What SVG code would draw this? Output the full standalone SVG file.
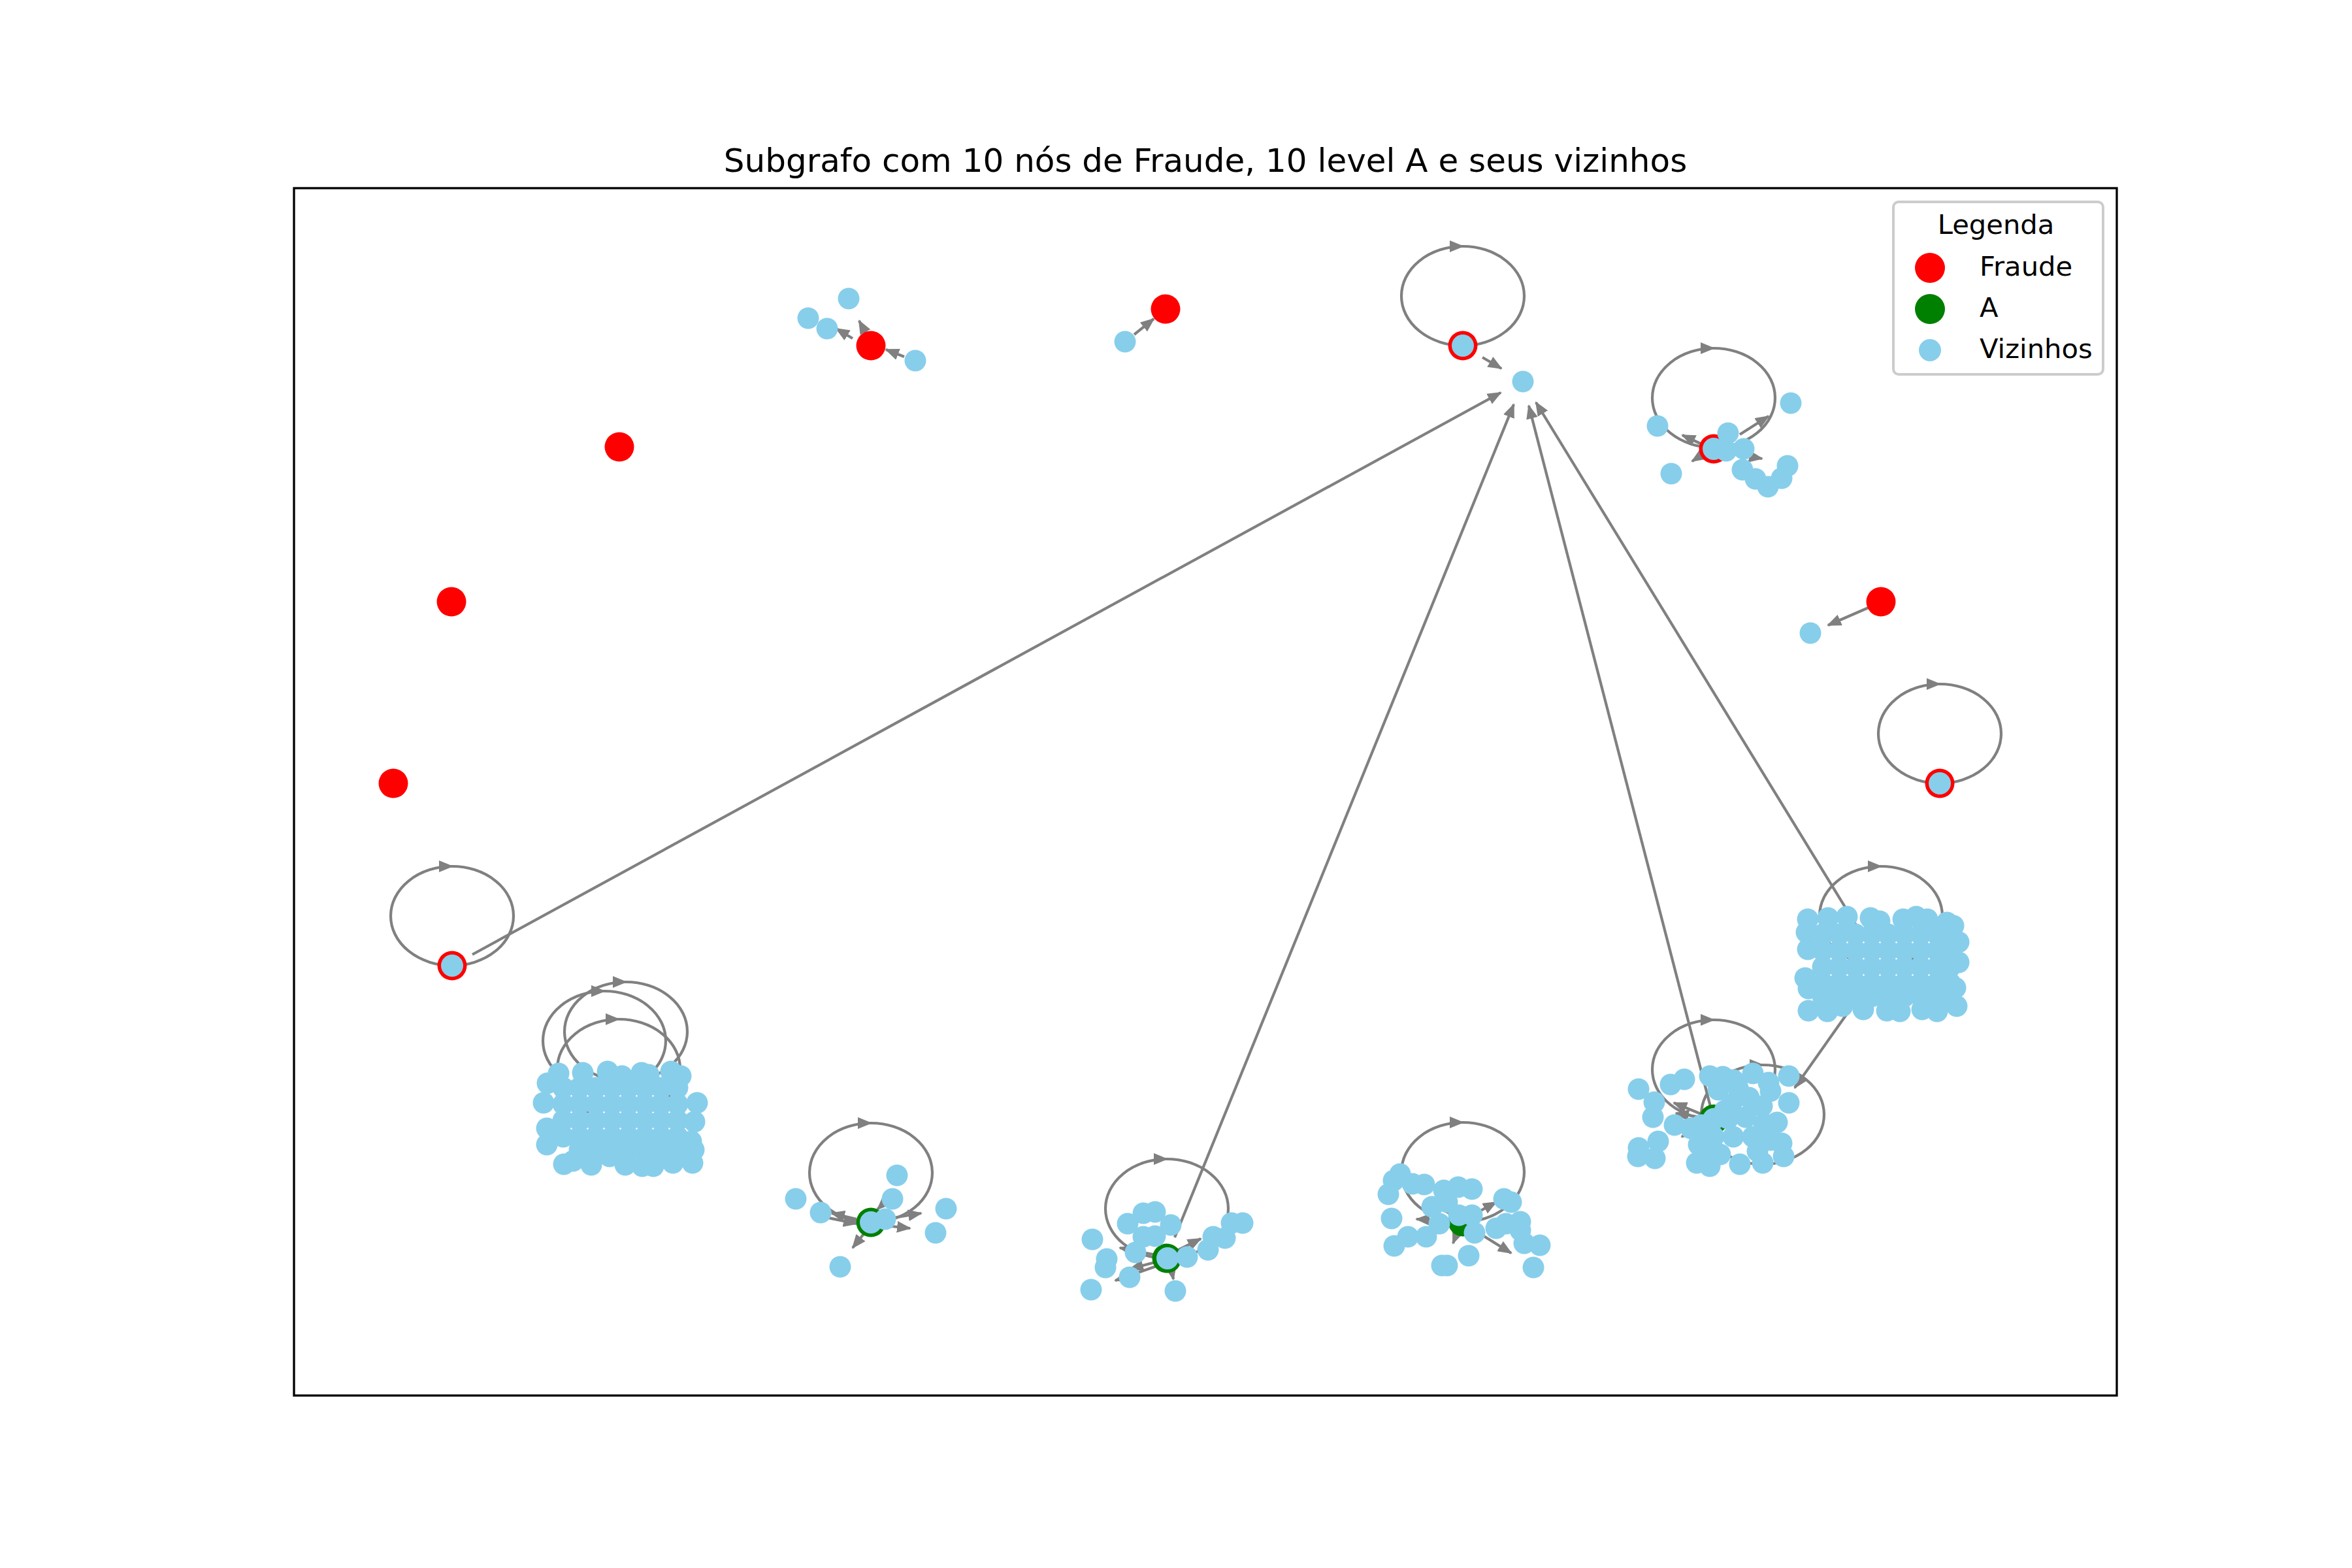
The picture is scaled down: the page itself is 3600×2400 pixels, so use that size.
<svg xmlns="http://www.w3.org/2000/svg" xmlns:xlink="http://www.w3.org/1999/xlink" width="3600" height="2400" viewBox="0 0 3600 2400">
<style>
.e{stroke:#808080;stroke-width:4.2;fill:none;stroke-linecap:butt}
.r{fill:#ff0000}
.g{fill:#008000}
.b{fill:#87ceeb}
.t{font-family:"DejaVu Sans","Liberation Sans",sans-serif;fill:#000}
</style>
<defs>
<marker id="ah" markerUnits="userSpaceOnUse" viewBox="0 0 22 18" refX="20" refY="9" markerWidth="22" markerHeight="18" orient="auto"><path d="M0,0 L22,9 L0,18 z" fill="#808080"/></marker>
<g id="loop"><path class="e" d="M0,0 A94,76 0 0 1 0,-152" marker-end="url(#ah)"/><path class="e" d="M0,-152 A94,76 0 0 1 0,0"/></g>
</defs>
<rect width="3600" height="2400" fill="#fff"/>
<text class="t" x="1845" y="263" font-size="50" text-anchor="middle">Subgrafo com 10 nós de Fraude, 10 level A e seus vizinhos</text>
<g id="connectors">
<use xlink:href="#loop" x="2239" y="529"/>
<use xlink:href="#loop" x="2623" y="685"/>
<use xlink:href="#loop" x="2969" y="1199"/>
<use xlink:href="#loop" x="692" y="1478"/>
<use xlink:href="#loop" x="2879" y="1478"/>
<use xlink:href="#loop" x="925" y="1669"/>
<use xlink:href="#loop" x="958" y="1655"/>
<use xlink:href="#loop" x="947" y="1712"/>
<use xlink:href="#loop" x="2623" y="1713"/>
<use xlink:href="#loop" x="2698" y="1782"/>
<use xlink:href="#loop" x="1333" y="1871"/>
<use xlink:href="#loop" x="1786" y="1926"/>
<use xlink:href="#loop" x="2239" y="1870"/>
<g marker-end="url(#ah)">
<line class="e" x1="1305" y1="518" x2="1280" y2="503"/>
<line class="e" x1="1328" y1="515" x2="1315" y2="491"/>
<line class="e" x1="1384" y1="546" x2="1356" y2="535"/>
<line class="e" x1="1736" y1="512" x2="1766" y2="488"/>
<line class="e" x1="2269" y1="547" x2="2298" y2="564"/>
<line class="e" x1="2663" y1="665" x2="2707" y2="637"/>
<line class="e" x1="2605" y1="680" x2="2575" y2="666"/>
<line class="e" x1="2610" y1="693" x2="2590" y2="706"/>
<line class="e" x1="2645" y1="693" x2="2697" y2="702"/>
<line class="e" x1="2860" y1="930" x2="2798" y2="957"/>
<line class="e" x1="723" y1="1461" x2="2297" y2="601"/>
<line class="e" x1="1798" y1="1894" x2="2317" y2="619"/>
<line class="e" x1="2623" y1="1713" x2="2340" y2="621"/>
<line class="e" x1="2879" y1="1478" x2="2351" y2="616"/>
<line class="e" x1="2879" y1="1478" x2="2747" y2="1665"/>
<line class="e" x1="1311" y1="1866" x2="1273" y2="1857"/>
<line class="e" x1="1258" y1="1862" x2="1311" y2="1873"/>
<line class="e" x1="1325" y1="1885" x2="1305" y2="1910"/>
<line class="e" x1="1362" y1="1833" x2="1343" y2="1851"/>
<line class="e" x1="1355" y1="1866" x2="1410" y2="1857"/>
<line class="e" x1="1355" y1="1876" x2="1393" y2="1880"/>
<line class="e" x1="1765" y1="1920" x2="1714" y2="1910"/>
<line class="e" x1="1768" y1="1932" x2="1730" y2="1942"/>
<line class="e" x1="1770" y1="1938" x2="1707" y2="1960"/>
<line class="e" x1="1790" y1="1930" x2="1796" y2="1958"/>
<line class="e" x1="1800" y1="1915" x2="1838" y2="1896"/>
<line class="e" x1="2215" y1="1868" x2="2168" y2="1866"/>
<line class="e" x1="2260" y1="1885" x2="2313" y2="1918"/>
<line class="e" x1="2235" y1="1875" x2="2224" y2="1903"/>
<line class="e" x1="2250" y1="1862" x2="2290" y2="1840"/>
<line class="e" x1="2225" y1="1860" x2="2180" y2="1838"/>
<line class="e" x1="2623" y1="1713" x2="2562" y2="1688"/>
<line class="e" x1="2623" y1="1713" x2="2565" y2="1704"/>
<line class="e" x1="2623" y1="1713" x2="2574" y2="1740"/>
</g>
</g>
<g id="fraude-nodes">
<g id="f1"><circle class="r" cx="1333" cy="529" r="22.5"/></g>
<g id="f2"><circle class="r" cx="1784" cy="473" r="22.5"/></g>
<g id="f3"><circle class="r" cx="948" cy="684" r="22.5"/></g>
<g id="f4"><circle class="r" cx="691" cy="921" r="22.5"/></g>
<g id="f5"><circle class="r" cx="602" cy="1199" r="22.5"/></g>
<g id="f6"><circle class="r" cx="2879" cy="921" r="22.5"/></g>
<g id="f7"><circle class="r" cx="2239" cy="529" r="22.5"/></g>
<g id="f8"><circle class="r" cx="2623" cy="687" r="22.5"/></g>
<g id="f9"><circle class="r" cx="2969" cy="1199" r="22.5"/></g>
<g id="f10"><circle class="r" cx="692" cy="1478" r="22.5"/></g>
</g>
<g id="a-nodes">
<g id="a1"><circle class="g" cx="1333" cy="1871" r="22.5"/></g>
<g id="a2"><circle class="g" cx="1786" cy="1926" r="22.5"/></g>
<g id="a3"><circle class="g" cx="2239" cy="1870" r="22.5"/></g>
<g id="a4"><circle class="g" cx="2623" cy="1713" r="22.5"/></g>
</g>
<g id="vizinhos" class="b">
<g id="v-top">
<circle cx="1237" cy="487" r="16.5"/><circle cx="1266" cy="503" r="16.5"/><circle cx="1299" cy="457" r="16.5"/><circle cx="1401" cy="552" r="16.5"/>
<circle cx="1722" cy="523" r="16.5"/>
<circle cx="2239" cy="529" r="17"/><circle cx="2331" cy="584" r="16.5"/>
<circle cx="2771" cy="969" r="16.5"/>
<circle cx="2969" cy="1199" r="17"/>
<circle cx="692" cy="1478" r="17"/>
</g>
<g id="v-topright">
<circle cx="2537" cy="652" r="16.5"/><circle cx="2558" cy="725" r="16.5"/><circle cx="2741" cy="617" r="16.5"/>
<circle cx="2623" cy="687" r="17"/><circle cx="2645" cy="663" r="16.5"/><circle cx="2642" cy="690" r="16.5"/><circle cx="2669" cy="687" r="16.5"/>
<circle cx="2667" cy="719" r="16.5"/><circle cx="2687" cy="733" r="16.5"/><circle cx="2706" cy="745" r="16.5"/><circle cx="2727" cy="732" r="16.5"/><circle cx="2736" cy="713" r="16.5"/>
</g>
<g id="v-a1">
<circle cx="1218" cy="1835" r="16.5"/><circle cx="1256" cy="1856" r="16.5"/><circle cx="1286" cy="1939" r="16.5"/><circle cx="1373" cy="1799" r="16.5"/>
<circle cx="1366" cy="1835" r="16.5"/><circle cx="1333" cy="1871" r="17"/><circle cx="1355" cy="1866" r="16.5"/><circle cx="1448" cy="1850" r="16.5"/><circle cx="1432" cy="1887" r="16.5"/>
</g>
<g id="v-a2">
<circle cx="1672" cy="1897" r="16.5"/><circle cx="1694" cy="1927" r="16.5"/><circle cx="1692" cy="1940" r="16.5"/><circle cx="1670" cy="1974" r="16.5"/>
<circle cx="1729" cy="1955" r="16.5"/><circle cx="1738" cy="1917" r="16.5"/><circle cx="1726" cy="1873" r="16.5"/><circle cx="1750" cy="1857" r="16.5"/>
<circle cx="1768" cy="1855" r="16.5"/><circle cx="1792" cy="1875" r="16.5"/><circle cx="1768" cy="1892" r="16.5"/><circle cx="1750" cy="1893" r="16.5"/>
<circle cx="1787" cy="1926" r="17"/><circle cx="1817" cy="1924" r="16.5"/><circle cx="1849" cy="1913" r="16.5"/><circle cx="1857" cy="1893" r="16.5"/>
<circle cx="1875" cy="1895" r="16.5"/><circle cx="1885" cy="1872" r="16.5"/><circle cx="1902" cy="1872" r="16.5"/><circle cx="1799" cy="1976" r="16.5"/>
</g>
<g id="v-a3">
<circle cx="2143" cy="1797" r="16.5"/><circle cx="2133" cy="1807" r="16.5"/><circle cx="2125" cy="1828" r="16.5"/><circle cx="2130" cy="1865" r="16.5"/>
<circle cx="2155" cy="1893" r="16.5"/><circle cx="2134" cy="1907" r="16.5"/><circle cx="2162" cy="1812" r="16.5"/><circle cx="2180" cy="1813" r="16.5"/>
<circle cx="2210" cy="1822" r="16.5"/><circle cx="2232" cy="1817" r="16.5"/><circle cx="2253" cy="1820" r="16.5"/><circle cx="2192" cy="1847" r="16.5"/>
<circle cx="2215" cy="1840" r="16.5"/><circle cx="2203" cy="1873" r="16.5"/><circle cx="2183" cy="1893" r="16.5"/><circle cx="2233" cy="1860" r="16.5"/>
<circle cx="2253" cy="1860" r="16.5"/><circle cx="2257" cy="1887" r="16.5"/><circle cx="2248" cy="1922" r="16.5"/><circle cx="2207" cy="1937" r="16.5"/>
<circle cx="2215" cy="1937" r="16.5"/><circle cx="2302" cy="1835" r="16.5"/><circle cx="2313" cy="1840" r="16.5"/><circle cx="2290" cy="1880" r="16.5"/>
<circle cx="2305" cy="1873" r="16.5"/><circle cx="2327" cy="1870" r="16.5"/><circle cx="2327" cy="1883" r="16.5"/><circle cx="2333" cy="1903" r="16.5"/>
<circle cx="2357" cy="1906" r="16.5"/><circle cx="2347" cy="1940" r="16.5"/>
</g>
<g id="v-left">
<circle cx="855" cy="1643" r="16.5"/><circle cx="892" cy="1642" r="16.5"/><circle cx="930" cy="1640" r="16.5"/><circle cx="952" cy="1647" r="16.5"/>
<circle cx="982" cy="1642" r="16.5"/><circle cx="993" cy="1645" r="16.5"/><circle cx="1027" cy="1640" r="16.5"/><circle cx="1042" cy="1647" r="16.5"/>
<circle cx="838" cy="1658" r="16.5"/><circle cx="832" cy="1688" r="16.5"/><circle cx="837" cy="1727" r="16.5"/><circle cx="837" cy="1752" r="16.5"/>
<circle cx="863" cy="1782" r="16.5"/><circle cx="877" cy="1777" r="16.5"/><circle cx="905" cy="1783" r="16.5"/><circle cx="933" cy="1770" r="16.5"/>
<circle cx="957" cy="1783" r="16.5"/><circle cx="983" cy="1785" r="16.5"/><circle cx="1000" cy="1785" r="16.5"/><circle cx="1030" cy="1780" r="16.5"/>
<circle cx="1060" cy="1780" r="16.5"/><circle cx="1067" cy="1688" r="16.5"/><circle cx="1063" cy="1717" r="16.5"/><circle cx="1058" cy="1747" r="16.5"/><circle cx="1062" cy="1760" r="16.5"/>
<circle cx="862" cy="1665" r="16.5"/><circle cx="887" cy="1665" r="16.5"/><circle cx="912" cy="1665" r="16.5"/><circle cx="937" cy="1665" r="16.5"/><circle cx="962" cy="1665" r="16.5"/><circle cx="987" cy="1665" r="16.5"/><circle cx="1012" cy="1665" r="16.5"/><circle cx="1037" cy="1665" r="16.5"/>
<circle cx="862" cy="1690" r="16.5"/><circle cx="887" cy="1690" r="16.5"/><circle cx="912" cy="1690" r="16.5"/><circle cx="937" cy="1690" r="16.5"/><circle cx="962" cy="1690" r="16.5"/><circle cx="987" cy="1690" r="16.5"/><circle cx="1012" cy="1690" r="16.5"/><circle cx="1037" cy="1690" r="16.5"/>
<circle cx="862" cy="1715" r="16.5"/><circle cx="887" cy="1715" r="16.5"/><circle cx="912" cy="1715" r="16.5"/><circle cx="937" cy="1715" r="16.5"/><circle cx="962" cy="1715" r="16.5"/><circle cx="987" cy="1715" r="16.5"/><circle cx="1012" cy="1715" r="16.5"/><circle cx="1037" cy="1715" r="16.5"/>
<circle cx="862" cy="1740" r="16.5"/><circle cx="887" cy="1740" r="16.5"/><circle cx="912" cy="1740" r="16.5"/><circle cx="937" cy="1740" r="16.5"/><circle cx="962" cy="1740" r="16.5"/><circle cx="987" cy="1740" r="16.5"/><circle cx="1012" cy="1740" r="16.5"/><circle cx="1037" cy="1740" r="16.5"/>
<circle cx="887" cy="1760" r="16.5"/><circle cx="912" cy="1760" r="16.5"/><circle cx="937" cy="1760" r="16.5"/><circle cx="962" cy="1760" r="16.5"/><circle cx="987" cy="1760" r="16.5"/><circle cx="1012" cy="1760" r="16.5"/><circle cx="1037" cy="1760" r="16.5"/>
</g>
<g id="v-right">
<circle cx="2767" cy="1407" r="16.5"/><circle cx="2798" cy="1405" r="16.5"/><circle cx="2827" cy="1403" r="16.5"/><circle cx="2863" cy="1405" r="16.5"/>
<circle cx="2877" cy="1410" r="16.5"/><circle cx="2913" cy="1407" r="16.5"/><circle cx="2933" cy="1403" r="16.5"/><circle cx="2950" cy="1407" r="16.5"/>
<circle cx="2980" cy="1412" r="16.5"/><circle cx="2990" cy="1417" r="16.5"/><circle cx="2765" cy="1427" r="16.5"/><circle cx="2767" cy="1453" r="16.5"/>
<circle cx="2763" cy="1497" r="16.5"/><circle cx="2768" cy="1513" r="16.5"/><circle cx="2768" cy="1547" r="16.5"/><circle cx="2998" cy="1442" r="16.5"/>
<circle cx="2998" cy="1473" r="16.5"/><circle cx="2993" cy="1512" r="16.5"/><circle cx="2995" cy="1540" r="16.5"/><circle cx="2797" cy="1548" r="16.5"/>
<circle cx="2820" cy="1540" r="16.5"/><circle cx="2852" cy="1545" r="16.5"/><circle cx="2888" cy="1547" r="16.5"/><circle cx="2908" cy="1548" r="16.5"/>
<circle cx="2942" cy="1545" r="16.5"/><circle cx="2965" cy="1548" r="16.5"/>
<circle cx="2790" cy="1430" r="16.5"/><circle cx="2815" cy="1430" r="16.5"/><circle cx="2840" cy="1430" r="16.5"/><circle cx="2865" cy="1430" r="16.5"/><circle cx="2890" cy="1430" r="16.5"/><circle cx="2915" cy="1430" r="16.5"/><circle cx="2940" cy="1430" r="16.5"/><circle cx="2965" cy="1430" r="16.5"/><circle cx="2985" cy="1430" r="16.5"/>
<circle cx="2790" cy="1455" r="16.5"/><circle cx="2815" cy="1455" r="16.5"/><circle cx="2840" cy="1455" r="16.5"/><circle cx="2865" cy="1455" r="16.5"/><circle cx="2890" cy="1455" r="16.5"/><circle cx="2915" cy="1455" r="16.5"/><circle cx="2940" cy="1455" r="16.5"/><circle cx="2965" cy="1455" r="16.5"/><circle cx="2985" cy="1455" r="16.5"/>
<circle cx="2790" cy="1480" r="16.5"/><circle cx="2815" cy="1480" r="16.5"/><circle cx="2840" cy="1480" r="16.5"/><circle cx="2865" cy="1480" r="16.5"/><circle cx="2890" cy="1480" r="16.5"/><circle cx="2915" cy="1480" r="16.5"/><circle cx="2940" cy="1480" r="16.5"/><circle cx="2965" cy="1480" r="16.5"/><circle cx="2985" cy="1480" r="16.5"/>
<circle cx="2790" cy="1505" r="16.5"/><circle cx="2815" cy="1505" r="16.5"/><circle cx="2840" cy="1505" r="16.5"/><circle cx="2865" cy="1505" r="16.5"/><circle cx="2890" cy="1505" r="16.5"/><circle cx="2915" cy="1505" r="16.5"/><circle cx="2940" cy="1505" r="16.5"/><circle cx="2965" cy="1505" r="16.5"/><circle cx="2985" cy="1505" r="16.5"/>
<circle cx="2790" cy="1525" r="16.5"/><circle cx="2815" cy="1525" r="16.5"/><circle cx="2840" cy="1525" r="16.5"/><circle cx="2865" cy="1525" r="16.5"/><circle cx="2890" cy="1525" r="16.5"/><circle cx="2915" cy="1525" r="16.5"/><circle cx="2940" cy="1525" r="16.5"/><circle cx="2965" cy="1525" r="16.5"/><circle cx="2985" cy="1525" r="16.5"/>
</g>
<g id="v-bottomright">
<circle cx="2508" cy="1667" r="16.5"/><circle cx="2532" cy="1687" r="16.5"/><circle cx="2530" cy="1710" r="16.5"/><circle cx="2508" cy="1757" r="16.5"/>
<circle cx="2507" cy="1770" r="16.5"/><circle cx="2533" cy="1773" r="16.5"/><circle cx="2538" cy="1747" r="16.5"/><circle cx="2557" cy="1660" r="16.5"/>
<circle cx="2578" cy="1652" r="16.5"/><circle cx="2617" cy="1647" r="16.5"/><circle cx="2637" cy="1648" r="16.5"/><circle cx="2653" cy="1653" r="16.5"/>
<circle cx="2683" cy="1643" r="16.5"/><circle cx="2707" cy="1657" r="16.5"/><circle cx="2738" cy="1647" r="16.5"/><circle cx="2738" cy="1688" r="16.5"/>
<circle cx="2720" cy="1718" r="16.5"/><circle cx="2727" cy="1750" r="16.5"/><circle cx="2730" cy="1770" r="16.5"/><circle cx="2698" cy="1780" r="16.5"/>
<circle cx="2663" cy="1782" r="16.5"/><circle cx="2617" cy="1785" r="16.5"/><circle cx="2597" cy="1780" r="16.5"/><circle cx="2563" cy="1722" r="16.5"/>
<circle cx="2588" cy="1727" r="16.5"/><circle cx="2650" cy="1690" r="16.5"/><circle cx="2677" cy="1680" r="16.5"/><circle cx="2697" cy="1693" r="16.5"/>
<circle cx="2623" cy="1740" r="16.5"/><circle cx="2653" cy="1740" r="16.5"/><circle cx="2683" cy="1740" r="16.5"/><circle cx="2633" cy="1767" r="16.5"/>
<circle cx="2710" cy="1670" r="16.5"/><circle cx="2623" cy="1713" r="17"/><circle cx="2645" cy="1712" r="16.5"/><circle cx="2600" cy="1752" r="16.5"/>
<circle cx="2604" cy="1722" r="16.5"/><circle cx="2640" cy="1700" r="16.5"/>
<circle cx="2700" cy="1720" r="16.5"/><circle cx="2672" cy="1710" r="16.5"/><circle cx="2630" cy="1668" r="16.5"/><circle cx="2660" cy="1665" r="16.5"/>
<circle cx="2610" cy="1765" r="16.5"/><circle cx="2690" cy="1762" r="16.5"/><circle cx="2710" cy="1745" r="16.5"/>
</g>
</g>
<rect x="450" y="288" width="2790" height="1848" fill="none" stroke="#000" stroke-width="3.3"/>
<g id="legend">
<rect x="2898" y="309" width="321" height="264" rx="8" fill="#fff" fill-opacity="0.8" stroke="#cccccc" stroke-width="4"/>
<text class="t" x="3055" y="358" font-size="41.7" text-anchor="middle">Legenda</text>
<circle class="r" cx="2954" cy="410" r="23"/>
<text class="t" x="3030" y="422" font-size="41.7">Fraude</text>
<circle class="g" cx="2954" cy="473" r="23"/>
<text class="t" x="3030" y="485" font-size="41.7">A</text>
<circle class="b" cx="2954" cy="536" r="17"/>
<text class="t" x="3030" y="548" font-size="41.7">Vizinhos</text>
</g>
</svg>
